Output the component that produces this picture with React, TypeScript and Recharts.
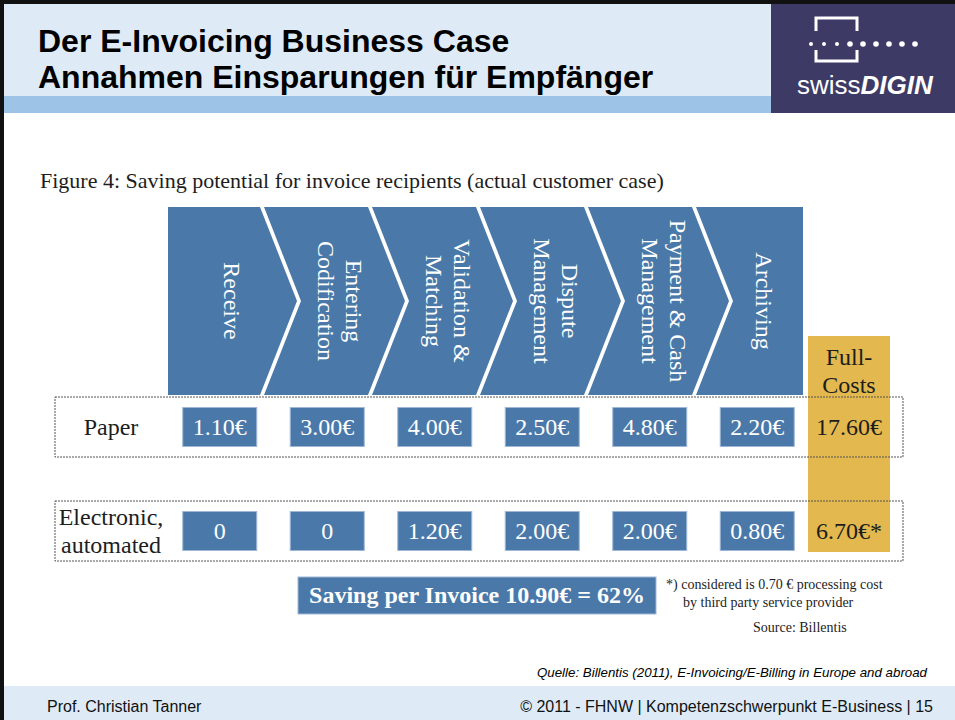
import React from "react";
import { ComposedChart, Bar, Scatter, XAxis, YAxis, ReferenceArea } from "recharts";

// process steps (line breaks as in the figure)
const STEPS = [
  "Receive",
  "Entering\nCodification",
  "Validation &\nMatching",
  "Dispute\nManagement",
  "Payment & Cash\nManagement",
  "Archiving",
];
const ROWS = ["Paper", "Electronic,\nautomated"];
// cost per invoice and step, in €
const PAPER = [1.1, 3.0, 4.0, 2.5, 4.8, 2.2];
const ELECTRONIC = [0, 0, 1.2, 2.0, 2.0, 0.8];
const PROCESSING_FEE = 0.7;
const TOTAL_COL = "Full-\nCosts";

const SERIF = "'Liberation Serif', 'Times New Roman', serif";
const SANS = "'Liberation Sans', Arial, sans-serif";
const BLUE = "#4A79A9";
const GOLD = "#E2B84F";
const INK = "#1d1d1d";

const fmt = (v: number) => (v === 0 ? "0" : `${v.toFixed(2)}€`);
const sum = (a: number[]) => a.reduce((s, v) => s + v, 0);

const paperTotal = sum(PAPER);
const elecTotal = sum(ELECTRONIC) + PROCESSING_FEE;
const saving = paperTotal - elecTotal;
const savingPct = Math.round((saving / paperTotal) * 100);

const stepData = STEPS.map((step) => ({ step }));
const paperPoints = STEPS.map((step, i) => ({ step, row: ROWS[0], value: PAPER[i] }));
const elecPoints = STEPS.map((step, i) => ({ step, row: ROWS[1], value: ELECTRONIC[i] }));
const rowPoints = ROWS.map((row) => ({ step: STEPS[0], row }));
const totalPoints = [
  { col: TOTAL_COL, row: ROWS[0], label: fmt(paperTotal) },
  { col: TOTAL_COL, row: ROWS[1], label: fmt(elecTotal) + "*" },
];

const renderChevron = (props: any) => {
  const { x, y, width, height, index, payload } = props;
  const gap = 4;
  const tip = 37;
  const first = index === 0;
  const last = index === STEPS.length - 1;
  const left = first ? x + 12 : x;
  const right = last ? x + width - 1 : x + width - gap;
  const mid = y + height / 2;
  const pts: number[][] = [[left, y], [right, y]];
  if (!last) pts.push([right + tip, mid]);
  pts.push([right, y + height], [left, y + height]);
  if (!first) pts.push([left + tip, mid]);
  const cx = last ? x + width * 0.63 : x + width * 0.7;
  const lines = String(payload.step).split("\n");
  return (
    <g>
      <polygon points={pts.map((p) => p.join(",")).join(" ")} fill={BLUE} />
      <text
        transform={`rotate(90 ${cx} ${mid})`}
        textAnchor="middle"
        fill="#fff"
        fontSize={24}
        fontFamily={SERIF}
      >
        {lines.map((l, k) => (
          <tspan key={k} x={cx} y={mid + (k - (lines.length - 1) / 2) * 28 + 8}>
            {l}
          </tspan>
        ))}
      </text>
    </g>
  );
};

const renderBox = (props: any) => {
  const { cx, cy, payload } = props;
  return (
    <g>
      <rect x={cx - 37} y={cy - 19.5} width={74} height={39} fill={BLUE} stroke="#9fb8d8" strokeWidth={1} />
      <text x={cx} y={cy + 8} textAnchor="middle" fill="#fff" fontSize={24} fontFamily={SERIF}>
        {fmt(payload.value)}
      </text>
    </g>
  );
};

const renderTotal = (props: any) => {
  const { cx, cy, payload } = props;
  return (
    <text x={cx} y={cy + 8} textAnchor="middle" fill={INK} fontSize={24} fontFamily={SERIF}>
      {payload.label}
    </text>
  );
};

const renderGoldHeader = (props: any) => {
  const { x, y, width } = props.viewBox;
  return (
    <text textAnchor="middle" fill={INK} fontSize={24} fontFamily={SERIF}>
      {TOTAL_COL.split("\n").map((l, k) => (
        <tspan key={k} x={x + width / 2} y={y + 29 + k * 28}>
          {l}
        </tspan>
      ))}
    </text>
  );
};

// row label + dashed frame around the row, placed on the row's y position
const renderRowFrame = (props: any) => {
  const { cy, payload } = props;
  const lines = String(payload.row).split("\n");
  return (
    <g>
      <rect x={55} y={cy - 30} width={848} height={60} fill="none" stroke="#555" strokeDasharray="2 1" />
      <text textAnchor="middle" fill={INK} fontSize={24} fontFamily={SERIF}>
        {lines.map((l, k) => (
          <tspan key={k} x={111} y={cy + (k - (lines.length - 1) / 2) * 28 + 8}>
            {l}
          </tspan>
        ))}
      </text>
    </g>
  );
};

const Background = () => (
  <svg width={955} height={720} style={{ position: "absolute", left: 0, top: 0 }}>
    <rect x={0} y={0} width={955} height={720} fill="#fff" />
    <rect x={4} y={4} width={767} height={92} fill="#DEEBF7" />
    <rect x={4} y={96} width={767} height={17} fill="#9DC3E6" />
    <rect x={771} y={4} width={184} height={109} fill="#3D3A66" />
    <path d="M816 31 V18 H857 V31" stroke="#fff" strokeWidth={3} fill="none" />
    <path d="M816 50 V61 H857 V50" stroke="#fff" strokeWidth={3} fill="none" />
    {[0, 1, 2, 3, 4, 5, 6, 7, 8].map((i) => (
      <circle key={i} cx={811 + i * 13} cy={44} r={i < 3 ? 2 : 2.8} fill="#fff" />
    ))}
    <text x={797} y={94} fill="#fff" fontSize={26} fontFamily={SANS}>
      <tspan>swiss</tspan>
      <tspan fontWeight="bold" fontStyle="italic">DIGIN</tspan>
    </text>
    <rect x={0} y={0} width={955} height={4} fill="#111" />
    <rect x={0} y={0} width={4} height={720} fill="#111" />
    <text fontSize={32} fontWeight="bold" fontFamily={SANS} fill="#000">
      <tspan x={38} y={52}>Der E-Invoicing Business Case</tspan>
      <tspan x={38} y={88}>Annahmen Einsparungen für Empfänger</tspan>
    </text>
    <text x={40} y={188} fontSize={22} fontFamily={SERIF} fill={INK}>
      Figure 4: Saving potential for invoice recipients (actual customer case)
    </text>
    <rect x={298} y={577} width={358} height={37} fill={BLUE} stroke="#9fb8d8" />
    <text x={477} y={603} textAnchor="middle" fontSize={24} fontWeight="bold" fontFamily={SERIF} fill="#fff">
      {`Saving per Invoice ${saving.toFixed(2)}€ = ${savingPct}%`}
    </text>
    <text fontSize={14} fontFamily={SERIF} fill={INK}>
      <tspan x={666} y={589}>{`*) considered is ${PROCESSING_FEE.toFixed(2)} € processing  cost`}</tspan>
      <tspan x={683} y={607}>by third party service provider</tspan>
      <tspan x={753} y={632}>Source: Billentis</tspan>
    </text>
    <text x={927} y={677} textAnchor="end" fontSize={13.3} fontStyle="italic" fontFamily={SANS} fill="#000">
      Quelle: Billentis (2011), E-Invoicing/E-Billing in Europe and abroad
    </text>
    <rect x={4} y={686} width={951} height={34} fill="#DEEBF7" />
    <text x={47} y={712} fontSize={16} fontFamily={SANS} fill="#111">
      Prof. Christian Tanner
    </text>
    <text x={933} y={712} textAnchor="end" fontSize={16} fontFamily={SANS} fill="#111">
      © 2011 - FHNW | Kompetenzschwerpunkt E-Business | 15
    </text>
  </svg>
);

export default function App() {
  return (
    <div style={{ position: "absolute", left: 0, top: 0, width: 955, height: 720, overflow: "hidden" }}>
      <Background />
      <div style={{ position: "absolute", left: 0, top: 0 }}>
        <ComposedChart
          width={955}
          height={720}
          data={stepData}
          margin={{ top: 0, right: 0, bottom: 0, left: 0 }}
          barCategoryGap={0}
        >
          <XAxis xAxisId="steps" dataKey="step" type="category" hide padding={{ left: 156, right: 151 }} />
          <XAxis
            xAxisId="boxes"
            dataKey="step"
            type="category"
            hide
            allowDuplicatedCategory={false}
            padding={{ left: 166, right: 144 }}
          />
          <XAxis
            xAxisId="total"
            dataKey="col"
            type="category"
            hide
            allowDuplicatedCategory={false}
            padding={{ left: 808, right: 65 }}
          />
          <YAxis yAxisId="head" type="number" domain={[0, 1]} hide padding={{ top: 207, bottom: 325 }} />
          <YAxis yAxisId="gold" type="number" domain={[0, 1]} hide allowDataOverflow padding={{ top: 336, bottom: 168 }} />
          <YAxis
            yAxisId="row"
            type="category"
            dataKey="row"
            scale="point"
            reversed
            hide
            allowDuplicatedCategory={false}
            padding={{ top: 427, bottom: 189 }}
          />
          <ReferenceArea
            xAxisId="total"
            yAxisId="gold"
            x1={TOTAL_COL}
            x2={TOTAL_COL}
            y1={0}
            y2={1}
            fill={GOLD}
            fillOpacity={1}
            stroke="none"
            ifOverflow="visible"
            label={renderGoldHeader}
          />
          <Bar xAxisId="steps" yAxisId="head" dataKey={() => 1} shape={renderChevron} isAnimationActive={false} />
          <Scatter xAxisId="boxes" yAxisId="row" data={rowPoints} dataKey="row" shape={renderRowFrame} isAnimationActive={false} />
          <Scatter xAxisId="boxes" yAxisId="row" data={paperPoints} dataKey="value" shape={renderBox} isAnimationActive={false} />
          <Scatter xAxisId="boxes" yAxisId="row" data={elecPoints} dataKey="value" shape={renderBox} isAnimationActive={false} />
          <Scatter xAxisId="total" yAxisId="row" data={totalPoints} dataKey="label" shape={renderTotal} isAnimationActive={false} />
        </ComposedChart>
      </div>
    </div>
  );
}
